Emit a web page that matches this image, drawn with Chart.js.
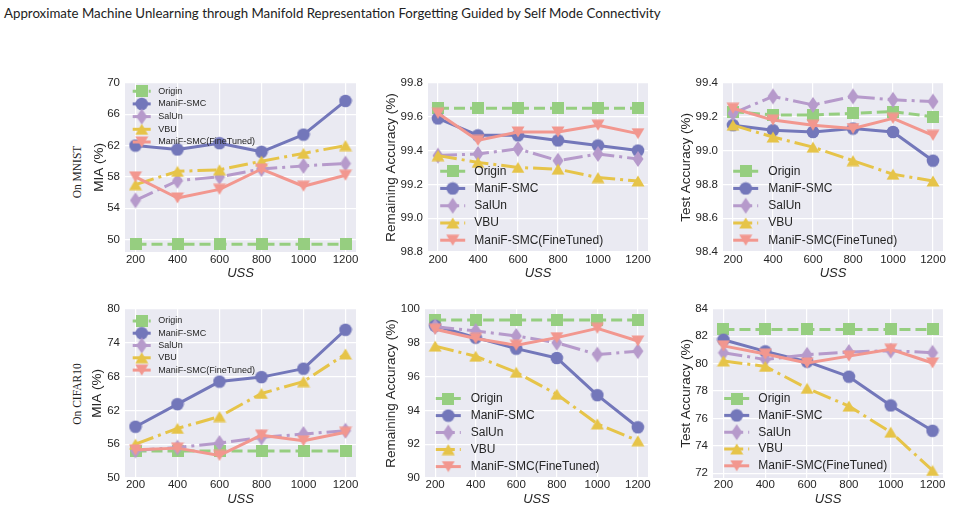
<!DOCTYPE html>
<html>
<head>
<meta charset="utf-8">
<script src="https://cdn.jsdelivr.net/npm/chart.js@4.4.1/dist/chart.umd.min.js"></script>
<style>
html,body{margin:0;padding:0;background:#fff;}
body{width:953px;height:510px;position:relative;overflow:hidden;}
#title{position:absolute;left:4px;top:5px;font-family:Lato,"Open Sans",sans-serif;font-size:13px;color:#222;white-space:nowrap;line-height:16px;}
.rowlab{position:absolute;font-family:"Liberation Serif","Times New Roman",serif;font-size:11.5px;color:#222;white-space:nowrap;transform:translate(-50%,-50%) rotate(-90deg);}
canvas{position:absolute;}
</style>
</head>
<body>
<div id="title">Approximate Machine Unlearning through Manifold Representation Forgetting Guided by Self Mode Connectivity</div>
<div class="rowlab" style="left:77px;top:171.5px">On MNIST</div>
<div class="rowlab" style="left:76.5px;top:394px">On CIFAR10</div>
<script>
// ---------- data ----------
const USS = [200, 400, 600, 800, 1000, 1200];
const METHODS = ['Origin', 'ManiF-SMC', 'SalUn', 'VBU', 'ManiF-SMC(FineTuned)'];

// MNIST – MIA (%)
const MNIST_MIA_ORIGIN = [49.4, 49.4, 49.4, 49.4, 49.4, 49.4];
const MNIST_MIA_MANIF  = [62.0, 61.5, 62.3, 61.2, 63.4, 67.7];
const MNIST_MIA_SALUN  = [55.0, 57.5, 58.0, 59.0, 59.4, 59.7];
const MNIST_MIA_VBU    = [57.0, 58.7, 58.9, 60.0, 61.0, 62.0];
const MNIST_MIA_FT     = [58.0, 55.3, 56.4, 59.0, 56.8, 58.2];
const MNIST_MIA_TICKS  = [50, 54, 58, 62, 66, 70];

// MNIST – Remaining Accuracy (%)
const MNIST_RA_ORIGIN = [99.65, 99.65, 99.65, 99.65, 99.65, 99.65];
const MNIST_RA_MANIF  = [99.59, 99.49, 99.49, 99.46, 99.43, 99.40];
const MNIST_RA_SALUN  = [99.37, 99.38, 99.41, 99.34, 99.38, 99.35];
const MNIST_RA_VBU    = [99.37, 99.33, 99.30, 99.29, 99.24, 99.22];
const MNIST_RA_FT     = [99.62, 99.46, 99.51, 99.51, 99.55, 99.50];
const MNIST_RA_TICKS  = [98.8, 99.0, 99.2, 99.4, 99.6, 99.8];

// MNIST – Test Accuracy (%)
const MNIST_TA_ORIGIN = [99.23, 99.21, 99.21, 99.22, 99.23, 99.20];
const MNIST_TA_MANIF  = [99.15, 99.12, 99.11, 99.13, 99.11, 98.94];
const MNIST_TA_SALUN  = [99.22, 99.32, 99.27, 99.32, 99.30, 99.29];
const MNIST_TA_VBU    = [99.15, 99.08, 99.02, 98.94, 98.86, 98.82];
const MNIST_TA_FT     = [99.25, 99.18, 99.15, 99.13, 99.19, 99.09];
const MNIST_TA_TICKS  = [98.4, 98.6, 98.8, 99.0, 99.2, 99.4];

// CIFAR10 – MIA (%)
const CIFAR_MIA_ORIGIN = [54.8, 54.8, 54.8, 54.8, 54.8, 54.8];
const CIFAR_MIA_MANIF  = [59.1, 63.1, 67.1, 67.9, 69.4, 76.3];
const CIFAR_MIA_SALUN  = [54.9, 55.4, 56.2, 57.2, 57.8, 58.4];
const CIFAR_MIA_VBU    = [56.0, 58.8, 60.9, 65.0, 67.1, 72.0];
const CIFAR_MIA_FT     = [55.0, 55.3, 54.0, 57.6, 56.6, 58.1];
const CIFAR_MIA_TICKS  = [50, 56, 62, 68, 74, 80];

// CIFAR10 – Remaining Accuracy (%)
const CIFAR_RA_ORIGIN = [99.35, 99.35, 99.35, 99.35, 99.35, 99.35];
const CIFAR_RA_MANIF  = [99.0, 98.3, 97.65, 97.1, 94.9, 93.0];
const CIFAR_RA_SALUN  = [98.95, 98.7, 98.4, 98.0, 97.3, 97.5];
const CIFAR_RA_VBU    = [97.8, 97.2, 96.25, 94.95, 93.2, 92.2];
const CIFAR_RA_FT     = [98.8, 98.25, 97.85, 98.3, 98.85, 98.1];
const CIFAR_RA_TICKS  = [90, 92, 94, 96, 98, 100];

// CIFAR10 – Test Accuracy (%)
const CIFAR_TA_ORIGIN = [82.5, 82.5, 82.5, 82.5, 82.5, 82.5];
const CIFAR_TA_MANIF  = [81.75, 80.9, 80.15, 79.05, 76.95, 75.1];
const CIFAR_TA_SALUN  = [80.8, 80.3, 80.65, 80.85, 80.95, 80.8];
const CIFAR_TA_VBU    = [80.2, 79.8, 78.2, 76.9, 75.0, 72.2];
const CIFAR_TA_FT     = [81.3, 80.7, 80.05, 80.55, 81.05, 80.05];
const CIFAR_TA_TICKS  = [72, 74, 76, 78, 80, 82, 84];

// ---------- styles ----------
const COLORS  = ['#96CE80', '#7377BA', '#B69ACB', '#E6C449', '#F2978F'];
const DASHES  = [[11, 5], [], [19, 5, 3, 5], [19, 5, 3, 5], []];
const MARKERS = ['square', 'circle', 'thinDiamond', 'triUp', 'triDown'];
const TEXT = '#262626';
Chart.defaults.font.family = '"Liberation Sans", Arial, sans-serif';

function makeMarker(kind, color) {
  const c = document.createElement('canvas');
  let w = 14, h = 12;
  if (kind === 'square') { w = 12; h = 12; }
  else if (kind === 'circle') { w = 14; h = 14; }
  else if (kind === 'thinDiamond') { w = 12; h = 18; }
  c.width = w; c.height = h;
  const g = c.getContext('2d');
  g.fillStyle = color; g.beginPath();
  if (kind === 'square') g.rect(0, 0, 12, 12);
  else if (kind === 'circle') g.arc(7, 7, 6.3, 0, Math.PI * 2);
  else if (kind === 'thinDiamond') { g.moveTo(6, 1); g.lineTo(11.5, 9); g.lineTo(6, 17); g.lineTo(0.5, 9); g.closePath(); }
  else if (kind === 'triUp') { g.moveTo(7, 0.5); g.lineTo(13.5, 11.5); g.lineTo(0.5, 11.5); g.closePath(); }
  else { g.moveTo(7, 11.5); g.lineTo(13.5, 0.5); g.lineTo(0.5, 0.5); g.closePath(); }
  g.fill();
  return c;
}

const bgPlugin = {
  id: 'bgArea',
  beforeDraw(chart) {
    const { ctx, chartArea: a } = chart;
    ctx.save(); ctx.fillStyle = '#EAEAF2';
    ctx.fillRect(a.left, a.top, a.right - a.left, a.bottom - a.top);
    ctx.restore();
  }
};

const legendPlugin = {
  id: 'mplLegend',
  afterDraw(chart, args, o) {
    const { ctx, chartArea: a } = chart;
    ctx.save();
    chart.data.datasets.forEach((ds, i) => {
      const cx = a.left + o.x, cy = a.top + o.y + i * o.dy;
      ctx.beginPath();
      ctx.setLineDash(ds.borderDash); ctx.lineWidth = ds.borderWidth;
      ctx.strokeStyle = ds.borderColor; ctx.lineCap = 'butt';
      ctx.moveTo(cx - o.half, cy); ctx.lineTo(cx + o.half, cy); ctx.stroke();
      ctx.setLineDash([]);
      const img = ds.pointStyle;
      ctx.drawImage(img, cx - img.width / 2, cy - img.height / 2);
      ctx.fillStyle = TEXT; ctx.font = o.font;
      ctx.textBaseline = 'middle'; ctx.textAlign = 'left';
      ctx.fillText(ds.label, cx + o.gap, cy);
    });
    ctx.restore();
  }
};

const SMALL = '9px "Liberation Sans", Arial, sans-serif';
const BIG = '12px "Liberation Sans", Arial, sans-serif';

const PANELS = [
  { area: [125, 81, 357, 252], ylab: 'MIA (%)', ylabX: 99, xlabY: 273.5, xtp: 1,
    ticks: MNIST_MIA_TICKS, ymin: 48.4, ymax: 70, dec: 0,
    series: [MNIST_MIA_ORIGIN, MNIST_MIA_MANIF, MNIST_MIA_SALUN, MNIST_MIA_VBU, MNIST_MIA_FT],
    legend: { x: 16.7, y: 8.3, dy: 12.7, gap: 16.6, half: 9, font: SMALL } },
  { area: [428, 81, 649, 252], ylab: 'Remaining Accuracy (%)', ylabX: 391.5, xlabY: 273.5, xtp: 1,
    ticks: MNIST_RA_TICKS, ymin: 98.8, ymax: 99.8, dec: 1,
    series: [MNIST_RA_ORIGIN, MNIST_RA_MANIF, MNIST_RA_SALUN, MNIST_RA_VBU, MNIST_RA_FT],
    legend: { x: 24.7, y: 88.3, dy: 17.25, gap: 21.6, half: 12.5, font: BIG } },
  { area: [723, 81, 944, 252], ylab: 'Test Accuracy (%)', ylabX: 686, xlabY: 273.5, xtp: 1,
    ticks: MNIST_TA_TICKS, ymin: 98.4, ymax: 99.4, dec: 1,
    series: [MNIST_TA_ORIGIN, MNIST_TA_MANIF, MNIST_TA_SALUN, MNIST_TA_VBU, MNIST_TA_FT],
    legend: { x: 22.7, y: 88.3, dy: 17.25, gap: 22.6, half: 12.5, font: BIG } },
  { area: [125, 307, 357, 478], ylab: 'MIA (%)', ylabX: 97.5, xlabY: 499.3, xtp: 0,
    ticks: CIFAR_MIA_TICKS, ymin: 50, ymax: 80, dec: 0,
    series: [CIFAR_MIA_ORIGIN, CIFAR_MIA_MANIF, CIFAR_MIA_SALUN, CIFAR_MIA_VBU, CIFAR_MIA_FT],
    legend: { x: 16.7, y: 12, dy: 12.3, gap: 16.6, half: 9, font: SMALL } },
  { area: [425, 307, 649, 478], ylab: 'Remaining Accuracy (%)', ylabX: 391, xlabY: 499.3, xtp: 0,
    ticks: CIFAR_RA_TICKS, ymin: 90, ymax: 100, dec: 0,
    series: [CIFAR_RA_ORIGIN, CIFAR_RA_MANIF, CIFAR_RA_SALUN, CIFAR_RA_VBU, CIFAR_RA_FT],
    legend: { x: 23.3, y: 89.7, dy: 17, gap: 22.4, half: 12.5, font: BIG } },
  { area: [713, 307, 944, 478], ylab: 'Test Accuracy (%)', ylabX: 686, xlabY: 499.3, xtp: 0,
    ticks: CIFAR_TA_TICKS, ymin: 71.65, ymax: 84, dec: 0,
    series: [CIFAR_TA_ORIGIN, CIFAR_TA_MANIF, CIFAR_TA_SALUN, CIFAR_TA_VBU, CIFAR_TA_FT],
    legend: { x: 23.7, y: 89.7, dy: 16.8, gap: 21.6, half: 12.5, font: BIG } }
];

const AXW = 62, AXH = 32, PT = 10, PR = 8;

function buildPanel(p) {
  const [l, t, r, b] = p.area;
  const x0 = l - AXW, y0 = t - PT;
  const cv = document.createElement('canvas');
  cv.width = r + PR - x0; cv.height = b + AXH - y0;
  cv.style.left = x0 + 'px'; cv.style.top = y0 + 'px';
  document.body.appendChild(cv);
  const datasets = p.series.map((vals, i) => ({
    label: METHODS[i],
    data: USS.map((x, k) => ({ x: x, y: vals[k] })),
    borderColor: COLORS[i], backgroundColor: COLORS[i],
    borderWidth: 3, borderDash: DASHES[i], borderCapStyle: 'butt', borderJoinStyle: 'round',
    pointStyle: makeMarker(MARKERS[i], COLORS[i]),
    pointRadius: 6, pointHoverRadius: 6,
    order: 5 - i, clip: false, tension: 0
  }));
  const yTitlePad = p.ylabX - x0 - 8.1;
  const xTitlePad = (b + AXH) - 7.8 - p.xlabY;
  new Chart(cv, {
    type: 'line',
    data: { datasets },
    options: {
      responsive: false, animation: false, devicePixelRatio: 1, events: [],
      layout: { padding: { left: 0, top: PT, right: PR, bottom: 0 } },
      plugins: { legend: { display: false }, tooltip: { enabled: false }, mplLegend: p.legend },
      scales: {
        x: {
          type: 'linear', min: 150, max: 1250,
          afterBuildTicks: s => { s.ticks = USS.map(v => ({ value: v })); },
          afterFit: s => { s.height = AXH; },
          grid: { color: '#ffffff', lineWidth: 1.2, drawTicks: false },
          border: { display: false },
          ticks: { padding: p.xtp, color: TEXT, font: { size: 11.5 }, maxRotation: 0, callback: v => String(v) },
          title: { display: true, text: 'USS', color: TEXT, font: { size: 13, style: 'italic' }, padding: { top: 0, bottom: xTitlePad } }
        },
        y: {
          min: p.ymin, max: p.ymax,
          afterBuildTicks: s => { s.ticks = p.ticks.map(v => ({ value: v })); },
          afterFit: s => { s.width = AXW; },
          grid: { color: '#ffffff', lineWidth: 1.2, drawTicks: false },
          border: { display: false },
          ticks: { padding: 5, color: TEXT, font: { size: 11.5 }, callback: v => Number(v).toFixed(p.dec) },
          title: { display: true, text: p.ylab, color: TEXT, font: { size: 13.5 }, padding: { top: yTitlePad, bottom: 0 } }
        }
      }
    },
    plugins: [bgPlugin, legendPlugin]
  });
}

PANELS.forEach(buildPanel);

// fit title width to the reference line length
const tEl = document.getElementById('title');
const tw = tEl.getBoundingClientRect().width;
if (tw > 0) tEl.style.fontSize = (13 * 657 / tw).toFixed(2) + 'px';
</script>
</body>
</html>
